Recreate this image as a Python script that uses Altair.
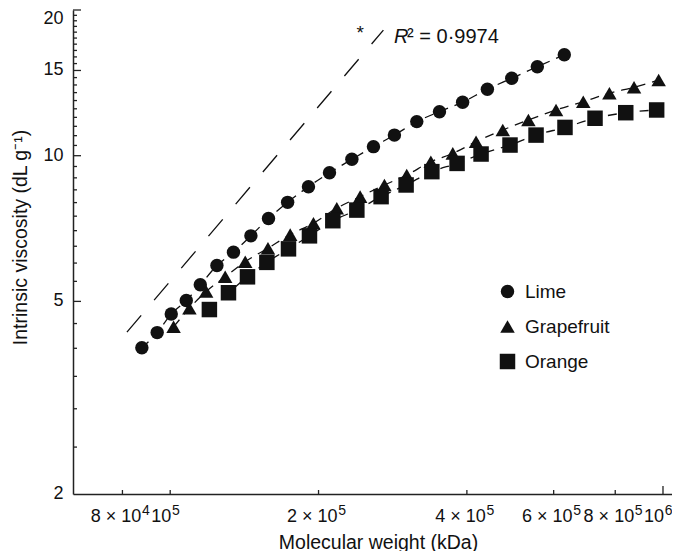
import altair as alt
import pandas as pd

# ---------------- data ----------------
series_names = ["Lime", "Grapefruit", "Orange"]
series_shapes = ["circle", "triangle-up", "square"]
series_sizes = [180, 240, 100]

lime_mw = [87600, 94100, 100500, 107800, 115100, 124400, 134400, 145800, 158300, 173100, 190800,
           210500, 233700, 258500, 285100, 316500, 351900, 392100, 440200, 493300, 555900, 630600]
lime_iv = [4.01, 4.31, 4.71, 5.02, 5.41, 5.93, 6.32, 6.83, 7.42, 8.01, 8.63,
           9.22, 9.83, 10.44, 11.03, 11.76, 12.33, 12.90, 13.72, 14.45, 15.27, 16.16]

grapefruit_mw = [101600, 109400, 118300, 129300, 142000, 157900, 175200, 195300, 217800, 242900, 272100,
                 302000, 338000, 374500, 417500, 473000, 533200, 606700, 689000, 778500, 873500, 980000]
grapefruit_iv = [4.43, 4.84, 5.24, 5.62, 6.04, 6.44, 6.87, 7.25, 7.79, 8.23, 8.70,
                 9.12, 9.72, 10.11, 10.69, 11.30, 11.85, 12.43, 12.93, 13.46, 13.85, 14.33]

orange_mw = [120100, 131300, 143500, 157100, 173800, 191700, 213800, 239200, 267900, 301100,
             339600, 382100, 427400, 489300, 552600, 632600, 727900, 840300, 970900]
orange_iv = [4.81, 5.21, 5.62, 6.02, 6.42, 6.83, 7.34, 7.72, 8.23, 8.70,
             9.27, 9.64, 10.08, 10.52, 11.03, 11.44, 11.95, 12.27, 12.43]

# reference slope line (long dashes)
ref_mw = [81700, 270800]
ref_iv = [4.32, 18.18]

# annotation anchors
ann_mw = [242900, 284700, 284700]
ann_iv = [17.46, 17.09, 17.09]
ann_text = ["*", "R", "\u00b2 = 0\u00b79974"]

# axis ticks and labels
x_domain = [63500, 1043000]
y_domain = [2, 20]
x_tick_values = [80000, 100000, 200000, 400000, 600000, 800000, 1000000]
x_label_prefix = ["8 \u00d7", "", "2 \u00d7", "4 \u00d7", "6 \u00d7", "8 \u00d7", ""]
x_label_base = ["10", "10", "10", "10", "10", "10", "10"]
x_label_exp = ["4", "5", "5", "5", "5", "5", "6"]
x_major_ticks = [1000000]
x_minor_ticks = [80000, 100000, 200000, 400000, 600000, 800000]
y_tick_values = [2, 5, 10, 15, 20]
y_tick_labels = ["2", "5", "10", "15", "20"]
y_major_ticks = [5, 10, 15, 20]
y_minor_ticks = [2.5, 3, 3.5, 4, 4.5, 5.5, 6, 6.5, 7, 7.5, 8, 8.5, 9, 9.5,
                 10.5, 11, 11.5, 12, 12.5, 13, 13.5, 14, 14.5,
                 15.5, 16, 16.5, 17, 17.5, 18, 18.5, 19, 19.5]

# ---------------- tables ----------------
rows = []
for name, xs, ys in [("Lime", lime_mw, lime_iv), ("Grapefruit", grapefruit_mw, grapefruit_iv),
                     ("Orange", orange_mw, orange_iv)]:
    for a, b in zip(xs, ys):
        rows.append({"series": name, "mw": a, "iv": b})
df = pd.DataFrame(rows)
ref_df = pd.DataFrame({"mw": ref_mw, "iv": ref_iv})
ann_df = pd.DataFrame({"mw": ann_mw, "iv": ann_iv, "text": ann_text})
xmaj_df = pd.DataFrame({"mw": x_major_ticks})
xmin_df = pd.DataFrame({"mw": x_minor_ticks})
ymaj_df = pd.DataFrame({"iv": y_major_ticks})
ymin_df = pd.DataFrame({"iv": y_minor_ticks})
xlab_df = pd.DataFrame({"mw": x_tick_values, "prefix": x_label_prefix,
                        "base": x_label_base, "exp": x_label_exp})
ylab_df = pd.DataFrame({"iv": y_tick_values, "label": y_tick_labels})

FONT = "Liberation Sans"
INK = "#111111"
W, H = 599, 484
LABEL_FS = 18
SUP_FS = 14

x_enc = alt.X("mw:Q",
              scale=alt.Scale(type="log", domain=x_domain, nice=False, zero=False),
              axis=alt.Axis(values=x_tick_values, labels=False, ticks=False, grid=False,
                            domainColor="#222222", domainWidth=1.5,
                            title="Molecular weight (kDa)", titleFont=FONT, titleFontSize=19.5,
                            titleFontWeight="normal", titleColor=INK, titleX=305, titleY=54,
                            titleAlign="center", titleBaseline="alphabetic"))
y_enc = alt.Y("iv:Q",
              scale=alt.Scale(type="log", domain=y_domain, nice=False, zero=False),
              axis=alt.Axis(values=y_tick_values, labels=False, ticks=False, grid=False,
                            domainColor="#222222", domainWidth=1.5,
                            title="Intrinsic viscosity (dL g\u207b\u00b9)", titleFont=FONT, titleFontSize=19.5,
                            titleFontWeight="normal", titleColor=INK, titleX=-53, titleY=227,
                            titleAngle=270, titleAlign="center", titleBaseline="middle"))

legend = alt.Legend(title=None, orient="none", legendX=425, legendY=272, padding=0,
                    labelFont=FONT, labelFontSize=19, labelColor=INK, labelOffset=8,
                    rowPadding=15, symbolFillColor=INK, symbolStrokeWidth=0, symbolOpacity=1)

ref_line = alt.Chart(ref_df).mark_line(color=INK, strokeWidth=1.3, strokeDash=[22, 20]).encode(
    x=x_enc, y=y_enc)

fit_lines = alt.Chart(df).mark_line(color=INK, strokeWidth=1.3, strokeDash=[9, 7],
                                    interpolate="monotone").encode(
    x=x_enc, y=y_enc, detail="series:N")

points = alt.Chart(df).mark_point(filled=True, opacity=1, color=INK, strokeWidth=0).encode(
    x=x_enc, y=y_enc,
    shape=alt.Shape("series:N", scale=alt.Scale(domain=series_names, range=series_shapes), legend=legend),
    size=alt.Size("series:N", scale=alt.Scale(domain=series_names, range=series_sizes), legend=legend),
)

x_major = alt.Chart(xmaj_df).mark_rule(color="#222222", strokeWidth=1.3).encode(
    x=x_enc, y=alt.value(H), y2=alt.value(H - 8))
x_minor = alt.Chart(xmin_df).mark_rule(color="#222222", strokeWidth=1.3).encode(
    x=x_enc, y=alt.value(H), y2=alt.value(H - 4))
y_major = alt.Chart(ymaj_df).mark_rule(color="#222222", strokeWidth=1.3).encode(
    y=y_enc, x=alt.value(0), x2=alt.value(8))
y_minor = alt.Chart(ymin_df).mark_rule(color="#222222", strokeWidth=1.3).encode(
    y=y_enc, x=alt.value(0), x2=alt.value(4))

# ---- tick labels as text (for real superscripts) ----
LAB_Y = H + 27.5
lab_style = dict(font=FONT, color=INK, baseline="alphabetic")
xl = alt.Chart(xlab_df)
has_prefix = "datum.prefix != ''"
no_prefix = "datum.prefix == ''"
xl_prefix = xl.transform_filter(has_prefix).mark_text(
    fontSize=LABEL_FS, align="right", dx=-6.1, **lab_style).encode(
    x=x_enc, y=alt.value(LAB_Y), text="prefix:N")
xl_base_a = xl.transform_filter(has_prefix).mark_text(
    fontSize=LABEL_FS, align="left", dx=-1.1, **lab_style).encode(
    x=x_enc, y=alt.value(LAB_Y), text="base:N")
xl_sup_a = xl.transform_filter(has_prefix).mark_text(
    fontSize=SUP_FS, align="left", dx=19.6, dy=-6.5, **lab_style).encode(
    x=x_enc, y=alt.value(LAB_Y), text="exp:N")
xl_base_b = xl.transform_filter(no_prefix).mark_text(
    fontSize=LABEL_FS, align="left", dx=-19, **lab_style).encode(
    x=x_enc, y=alt.value(LAB_Y), text="base:N")
xl_sup_b = xl.transform_filter(no_prefix).mark_text(
    fontSize=SUP_FS, align="left", dx=1.7, dy=-6.5, **lab_style).encode(
    x=x_enc, y=alt.value(LAB_Y), text="exp:N")

yl = alt.Chart(ylab_df)
yl_main = yl.transform_filter("datum.iv < 20").mark_text(
    font=FONT, fontSize=LABEL_FS, color=INK, align="right", baseline="middle", dx=-9.5).encode(
    y=y_enc, x=alt.value(0), text="label:N")
yl_top = yl.transform_filter("datum.iv >= 20").mark_text(
    font=FONT, fontSize=LABEL_FS, color=INK, align="right", baseline="middle", dx=-9.5, dy=9).encode(
    y=y_enc, x=alt.value(0), text="label:N")

star = alt.Chart(ann_df).transform_filter("datum.text == '*'").mark_text(
    font=FONT, fontSize=19, color=INK, align="center", baseline="alphabetic").encode(
    x=x_enc, y=y_enc, text="text:N")
r_text = alt.Chart(ann_df).transform_filter("datum.text == 'R'").mark_text(
    font=FONT, fontSize=20, fontStyle="italic", color=INK, align="left", baseline="alphabetic").encode(
    x=x_enc, y=y_enc, text="text:N")
r_val = alt.Chart(ann_df).transform_filter("datum.text != 'R' && datum.text != '*'").mark_text(
    font=FONT, fontSize=20, color=INK, align="left", baseline="alphabetic", dx=13).encode(
    x=x_enc, y=y_enc, text="text:N")

chart = alt.layer(ref_line, fit_lines, points, x_major, x_minor, y_major, y_minor,
                  xl_prefix, xl_base_a, xl_sup_a, xl_base_b, xl_sup_b, yl_main, yl_top,
                  star, r_text, r_val).properties(
    width=W, height=H,
    autosize=alt.AutoSizeParams(type="none"),
    padding={"left": 65, "top": 2, "right": 0, "bottom": 57},
    background="white",
).configure_view(stroke=None)

chart.save("out.html", embed_options={"renderer": "svg", "actions": False})
